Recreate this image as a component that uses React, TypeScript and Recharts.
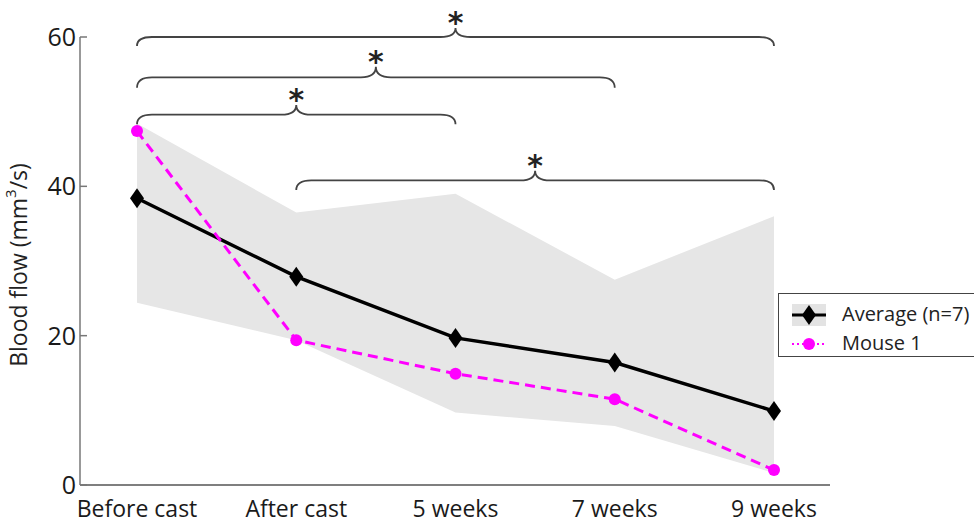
import {
  ComposedChart,
  Area,
  Line,
  XAxis,
  YAxis,
  Legend,
  ReferenceArea,
} from "recharts";

const categories = ["Before cast", "After cast", "5 weeks", "7 weeks", "9 weeks"];
const average = [38.4, 27.9, 19.7, 16.4, 9.9];
const mouse1 = [47.4, 19.4, 14.9, 11.5, 2.0];
const rangeLow = [24.4, 19.4, 9.7, 7.9, 1.6];
const rangeHigh = [48.4, 36.5, 39.0, 27.5, 36.0];
const yTicks = [0, 20, 40, 60];

// significance brackets: from / to category, line level and end tip (data units)
const braceFrom = ["Before cast", "Before cast", "Before cast", "After cast"];
const braceTo = ["9 weeks", "7 weeks", "5 weeks", "9 weeks"];
const braceLevel = [60, 54.6, 49.6, 40.8];
const braceTip = [58.8, 53.2, 48.3, 39.5];

const data = categories.map((name, i) => ({
  name,
  average: average[i],
  mouse1: mouse1[i],
  range: [rangeLow[i], rangeHigh[i]],
}));

const FONT = "'Open Sans', sans-serif";
const MAGENTA = "#f0f";

const Diamond = (props: any) => {
  const { cx, cy } = props;
  if (cx == null || cy == null) return null;
  return (
    <path
      d={`M${cx},${cy - 10} L${cx + 7},${cy} L${cx},${cy + 10} L${cx - 7},${cy} Z`}
      fill="#000"
    />
  );
};

const Brace = (props: any) => {
  const { x, y, width, height } = props;
  const cx = x + width / 2;
  const r = 15;
  const d =
    `M${x},${y + height} Q${x},${y} ${x + r},${y} L${cx - r},${y} ` +
    `Q${cx},${y} ${cx},${y - height} Q${cx},${y} ${cx + r},${y} ` +
    `L${x + width - r},${y} Q${x + width},${y} ${x + width},${y + height}`;
  return (
    <g>
      <path d={d} fill="none" stroke="#444" strokeWidth={1.8} />
      <text
        x={cx}
        y={y - height + 5}
        textAnchor="middle"
        fontFamily="'DejaVu Sans', sans-serif"
        fontWeight="bold"
        fontSize={30}
        fill="#222"
      >
        *
      </text>
    </g>
  );
};

const LegendBox = () => (
  <div
    style={{
      border: "1.5px solid #444",
      background: "#fff",
      width: 200,
      height: 64,
      boxSizing: "border-box",
      fontFamily: FONT,
      fontSize: 20,
      color: "#222",
      position: "relative",
    }}
  >
    <svg width={60} height={64} style={{ position: "absolute", left: 0, top: 0 }}>
      <rect x={13} y={10} width={34} height={22} fill="#e3e3e3" />
      <line x1={13} y1={21} x2={47} y2={21} stroke="#000" strokeWidth={3} />
      <Diamond cx={30} cy={21} />
      <line x1={13} y1={50} x2={47} y2={50} stroke={MAGENTA} strokeWidth={2} strokeDasharray="2 3" />
      <circle cx={30} cy={50} r={6} fill={MAGENTA} />
    </svg>
    <div style={{ position: "absolute", left: 63, top: 6, lineHeight: "28px" }}>
      Average (n=7)
    </div>
    <div style={{ position: "absolute", left: 63, top: 35, lineHeight: "28px" }}>
      Mouse 1
    </div>
  </div>
);

const YLabel = (props: any) => {
  const { viewBox } = props;
  const x = viewBox.x + 18;
  const y = viewBox.y + viewBox.height / 2 + 4;
  return (
    <text
      x={x}
      y={y}
      transform={`rotate(-90 ${x} ${y})`}
      textAnchor="middle"
      dominantBaseline="central"
      fontFamily={FONT}
      fontSize={23}
      fill="#222"
    >
      Blood flow (mm<tspan dy={-8} fontSize={15}>3</tspan>
      <tspan dy={8}>/s)</tspan>
    </text>
  );
};

export default function App() {
  return (
    <div style={{ position: "absolute", left: 0, top: 0, background: "#fff" }}>
      <ComposedChart
        width={974}
        height={523}
        data={data}
        margin={{ top: 37, right: 144, bottom: 0, left: 0 }}
      >
        <XAxis
          dataKey="name"
          scale="point"
          padding={{ left: 57, right: 56 }}
          height={38}
          tickLine={false}
          axisLine={{ stroke: "#555", strokeWidth: 1.5 }}
          tick={{ fontFamily: FONT, fontSize: 23, fill: "#1a1a1a" }}
          tickMargin={10}
          interval={0}
        />
        <YAxis
          domain={[0, 60]}
          ticks={yTicks}
          width={80}
          axisLine={{ stroke: "#777", strokeWidth: 1.5 }}
          tickLine={{ stroke: "#777", strokeWidth: 1.5 }}
          tickSize={-7}
          tickMargin={11}
          tick={{ fontFamily: FONT, fontSize: 25, fill: "#1a1a1a" }}
          label={{ content: YLabel }}
        />
        <Area
          dataKey="range"
          type="linear"
          fill="#e6e6e6"
          fillOpacity={1}
          stroke="none"
          isAnimationActive={false}
          activeDot={false}
        />
        <Line
          dataKey="average"
          type="linear"
          stroke="#000"
          strokeWidth={3.5}
          dot={<Diamond />}
          activeDot={false}
          isAnimationActive={false}
        />
        <Line
          dataKey="mouse1"
          type="linear"
          stroke={MAGENTA}
          strokeWidth={3}
          strokeDasharray="10 6"
          dot={{ r: 6, fill: MAGENTA, stroke: "none" }}
          activeDot={false}
          isAnimationActive={false}
        />
        {braceFrom.map((from, i) => (
          <ReferenceArea
            key={i}
            x1={from}
            x2={braceTo[i]}
            y1={braceTip[i]}
            y2={braceLevel[i]}
            ifOverflow="visible"
            shape={(p: any) => <Brace {...p} />}
          />
        ))}
        <Legend
          layout="vertical"
          align="center"
          verticalAlign="middle"
          wrapperStyle={{ left: 778, top: 293, width: 200, height: 64 }}
          content={() => <LegendBox />}
        />
      </ComposedChart>
    </div>
  );
}
